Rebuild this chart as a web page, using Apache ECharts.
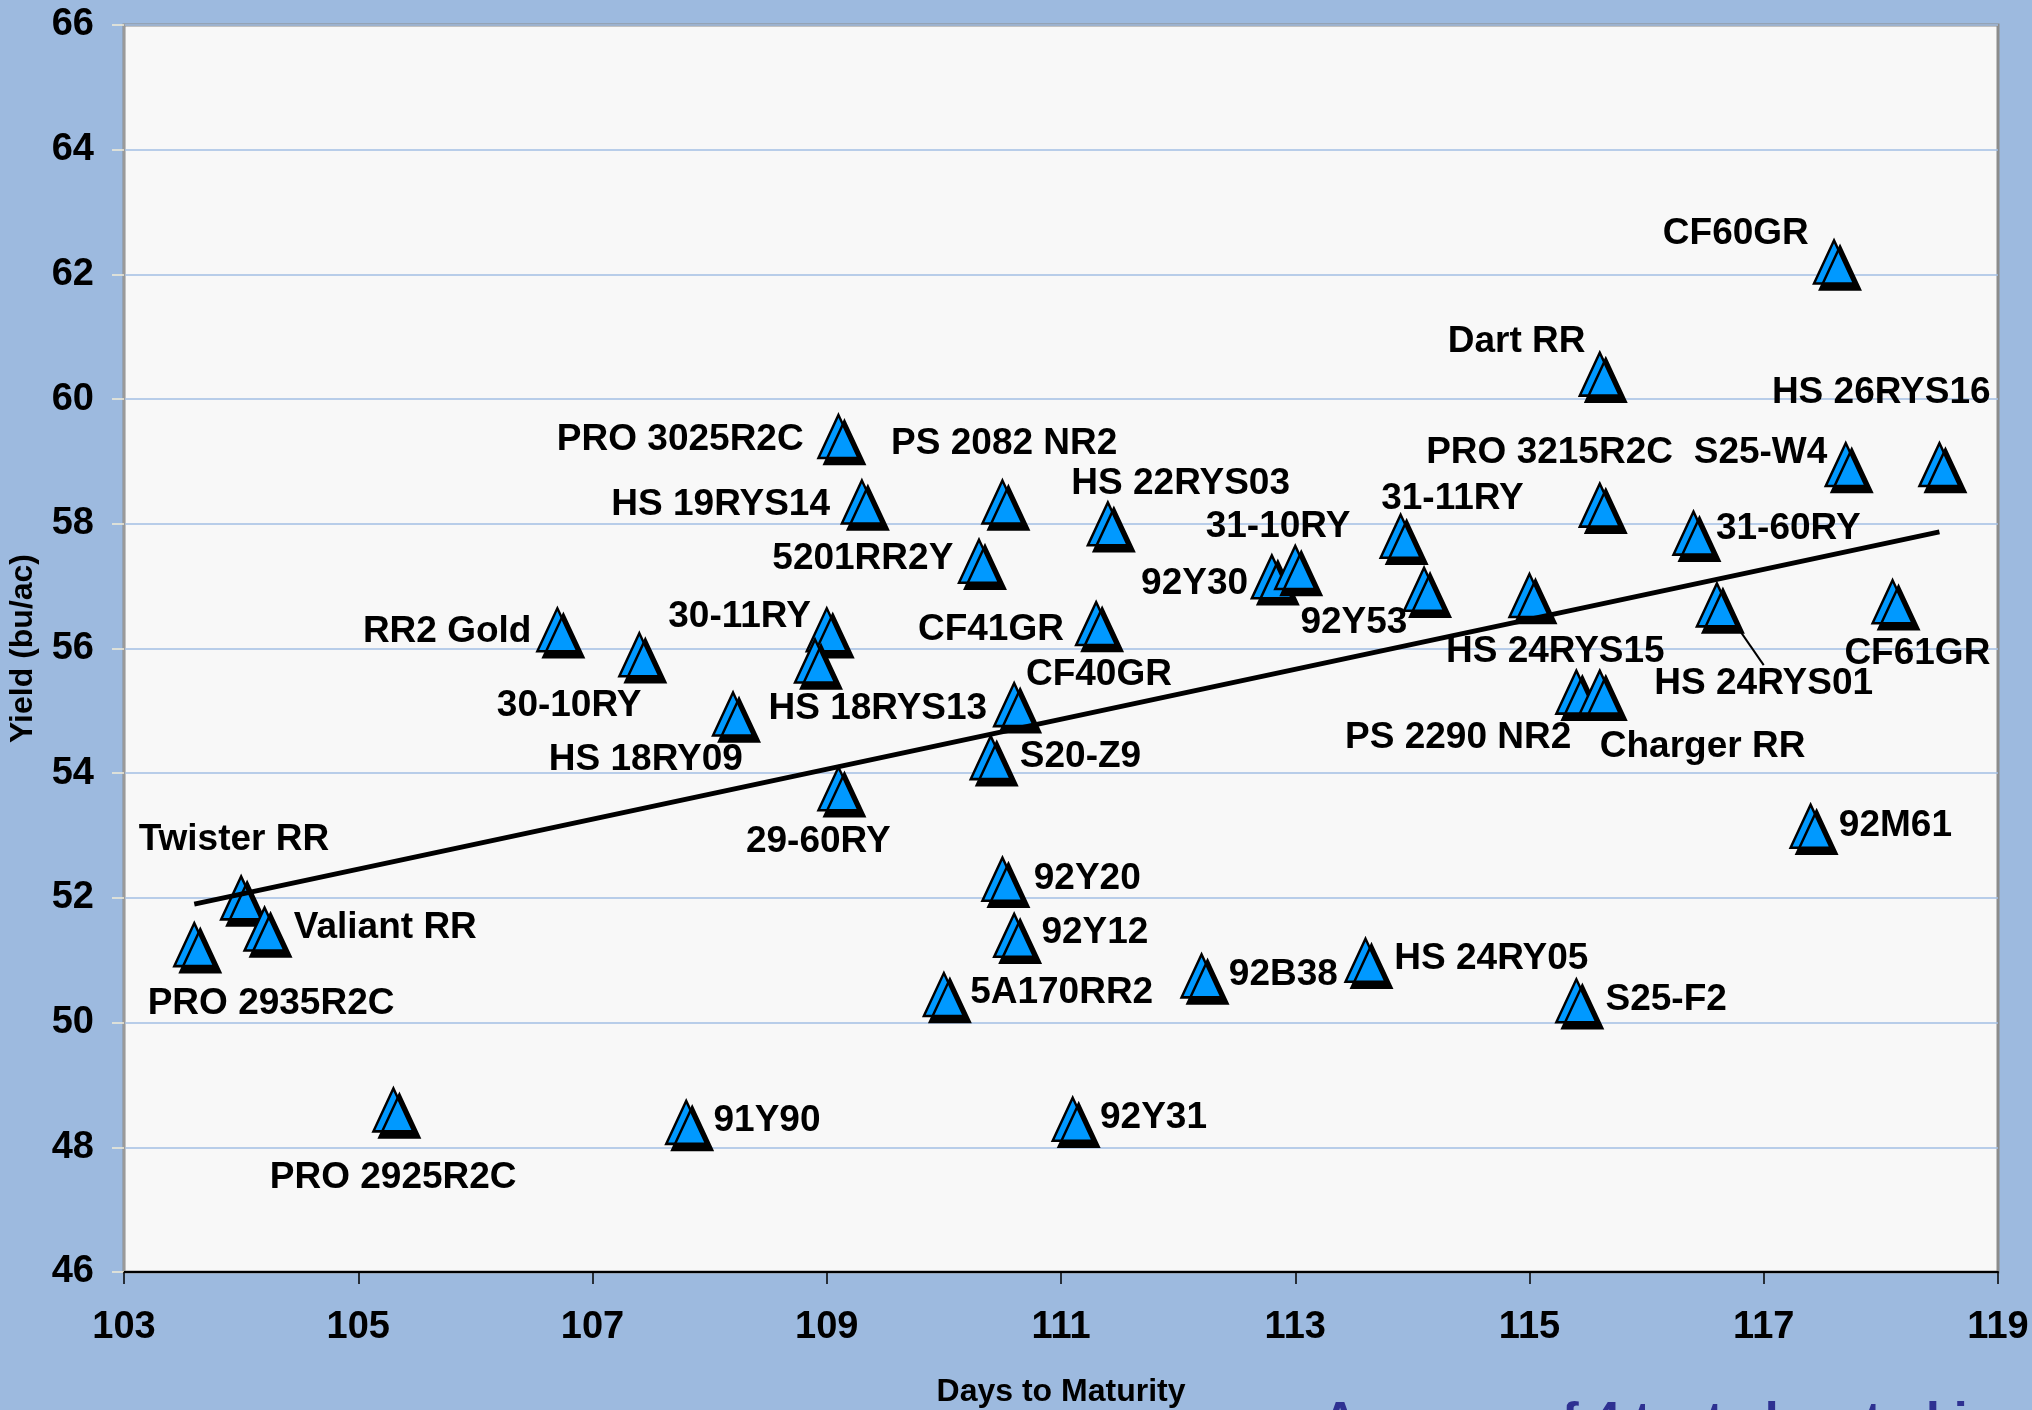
<!DOCTYPE html>
<html>
<head>
<meta charset="utf-8">
<script src="https://cdn.jsdelivr.net/npm/echarts@6.0.0/dist/echarts.min.js"></script>
<style>
  html, body { margin: 0; padding: 0; background: #9DBADF; }
  #main { width: 2032px; height: 1410px; }
</style>
</head>
<body>
<div id="main"></div>
<script>
// variety names, days to maturity, yield (bu/ac)
const varieties = ['PRO 2935R2C', 'Twister RR', 'Valiant RR', 'PRO 2925R2C', 'RR2 Gold', '30-10RY',
  'HS 18RY09', '91Y90', '30-11RY', 'HS 18RYS13', '29-60RY', 'PRO 3025R2C', 'HS 19RYS14', '5201RR2Y',
  'PS 2082 NR2', '92Y20', '92Y12', 'S20-Z9', 'CF40GR', '5A170RR2', '92Y31', 'CF41GR', 'HS 22RYS03',
  '92B38', '92Y30', '31-10RY', 'HS 24RY05', '31-11RY', '92Y53', 'HS 24RYS15', 'PS 2290 NR2',
  'Charger RR', 'S25-F2', 'Dart RR', 'PRO 3215R2C', '31-60RY', 'HS 24RYS01', '92M61', 'CF60GR',
  'S25-W4', 'HS 26RYS16', 'CF61GR'];
const days = [103.6, 104.0, 104.2, 105.3, 106.7, 107.4,
  108.2, 107.8, 109.0, 108.9, 109.1, 109.1, 109.3, 110.3,
  110.5, 110.5, 110.6, 110.4, 110.6, 110.0, 111.1, 111.3, 111.4,
  112.2, 112.8, 113.0, 113.6, 113.9, 114.1, 115.0, 115.4,
  115.6, 115.4, 115.6, 115.6, 116.4, 116.6, 117.4, 117.6,
  117.7, 118.5, 118.1];
const yields = [51.25, 52.0, 51.5, 48.6, 56.3, 55.9,
  54.95, 48.4, 56.3, 55.8, 53.75, 59.4, 58.35, 57.4,
  58.35, 52.3, 51.4, 54.25, 55.1, 50.45, 48.45, 56.4, 58.0,
  50.75, 57.15, 57.3, 51.0, 57.8, 56.95, 56.85, 55.3,
  55.3, 50.35, 60.4, 58.3, 57.85, 56.7, 53.15, 62.2,
  58.95, 58.95, 56.75];
// linear trend line end points
const trendDays = [103.6, 118.5];
const trendYields = [51.9, 57.87];

// where each label sits relative to its marker (px)
const labelOffsets = {
  'PRO 2935R2C': [78, 60], 'Twister RR': [-6, -57], 'Valiant RR': [122, 0], 'PRO 2925R2C': [1, 69],
  'RR2 Gold': [-109, 3], '30-10RY': [-69, 52], 'HS 18RY09': [-86, 47], '91Y90': [82, 0],
  '30-11RY': [-86, -12], 'HS 18RYS13': [64, 49], '29-60RY': [-19, 54], 'PRO 3025R2C': [-157, 5],
  'HS 19RYS14': [-140, 4], '5201RR2Y': [-115, -1], 'PS 2082 NR2': [3, -57], '92Y20': [86, 1],
  '92Y12': [82, -1], 'S20-Z9': [91, 0], 'CF40GR': [86, -29], '5A170RR2': [119, 0], '92Y31': [82, 0],
  'CF41GR': [-104, 8], 'HS 22RYS03': [74, -39], '92B38': [83, 0], '92Y30': [-76, 8],
  '31-10RY': [-16, -39], 'HS 24RY05': [127, 0], '31-11RY': [53, -36], '92Y53': [-69, 35],
  'HS 24RYS15': [27, 58], 'PS 2290 NR2': [-117, 47], 'Charger RR': [104, 56], 'S25-F2': [91, 0],
  'Dart RR': [-82, -31], 'PRO 3215R2C': [-49, -51], '31-60RY': [96, -3], 'HS 24RYS01': [48, 80],
  '92M61': [86, 1], 'CF60GR': [-97, -27], 'S25-W4': [-84, -10], 'HS 26RYS16': [-57, -70],
  'CF61GR': [26, 53]
};
const leaderLabel = 'HS 24RYS01';

const points = varieties.map((n, i) => {
  const item = { name: n, value: [days[i], yields[i]] };
  if (n === leaderLabel) {
    item.labelLine = { show: true, lineStyle: { color: '#000', width: 2, opacity: 1 } };
  }
  return item;
});
const trend = trendDays.map((d, i) => [d, trendYields[i]]);

const font = '"Liberation Sans", Arial, sans-serif';
const markSize = [40, 43];

const chart = echarts.init(document.getElementById('main'));
chart.setOption({
  backgroundColor: '#9DBADF',
  animation: false,
  grid: {
    left: 124, top: 25, right: 34, bottom: 138,
    outerBoundsMode: 'none',
    show: true, backgroundColor: '#F8F8F8', borderColor: '#8C8C8C', borderWidth: 3
  },
  xAxis: {
    type: 'value', min: 103, max: 119, interval: 2,
    name: 'Days to Maturity', nameLocation: 'middle', nameGap: 104,
    nameTextStyle: { fontFamily: font, fontWeight: 'bold', fontSize: 32, color: '#000' },
    axisLine: { show: true, lineStyle: { color: '#000', width: 2 } },
    axisTick: { show: true, length: 12, lineStyle: { color: '#000', width: 1.5 } },
    axisLabel: { margin: 37, fontFamily: font, fontWeight: 'bold', fontSize: 38, color: '#000' },
    splitLine: { show: false }
  },
  yAxis: {
    type: 'value', min: 46, max: 66, interval: 2,
    name: 'Yield (bu/ac)', nameLocation: 'middle', nameGap: 85, nameRotate: 90,
    nameTextStyle: { fontFamily: font, fontWeight: 'bold', fontSize: 32, color: '#000' },
    axisLine: { show: true, lineStyle: { color: '#9A9A9A', width: 2 } },
    axisTick: { show: true, length: 12, lineStyle: { color: '#F2EDD8', width: 1.5 } },
    axisLabel: { margin: 30, fontFamily: font, fontWeight: 'bold', fontSize: 38, color: '#000' },
    splitLine: { show: true, lineStyle: { color: '#A3BFE4', width: 1.5 } }
  },
  series: [
    {
      type: 'scatter',
      data: points,
      symbol: 'triangle',
      symbolSize: markSize,
      itemStyle: {
        color: '#0099FF', borderColor: '#000', borderWidth: 2.5, opacity: 1,
        shadowColor: '#000', shadowBlur: 0, shadowOffsetX: 6, shadowOffsetY: 6
      },
      label: {
        show: true, position: [markSize[0] / 2, markSize[1] / 2],
        align: 'center', verticalAlign: 'middle', formatter: '{b}',
        fontFamily: font, fontWeight: 'bold', fontSize: 37, color: '#000',
        textBorderWidth: 0, opacity: 1
      },
      labelLayout: function (params) {
        const o = labelOffsets[varieties[params.dataIndex]];
        return { dx: o[0], dy: o[1] };
      },
      emphasis: { disabled: true },
      z: 2
    },
    {
      type: 'line',
      data: trend,
      symbol: 'none',
      lineStyle: { color: '#000', width: 5 },
      z: 3
    }
  ],
  graphic: [
    {
      type: 'text', left: 1322, top: 1398,
      style: { text: 'Average of 4 tests located in', font: 'bold 50px ' + font, fill: '#2E3192' }
    }
  ]
});
</script>
</body>
</html>
